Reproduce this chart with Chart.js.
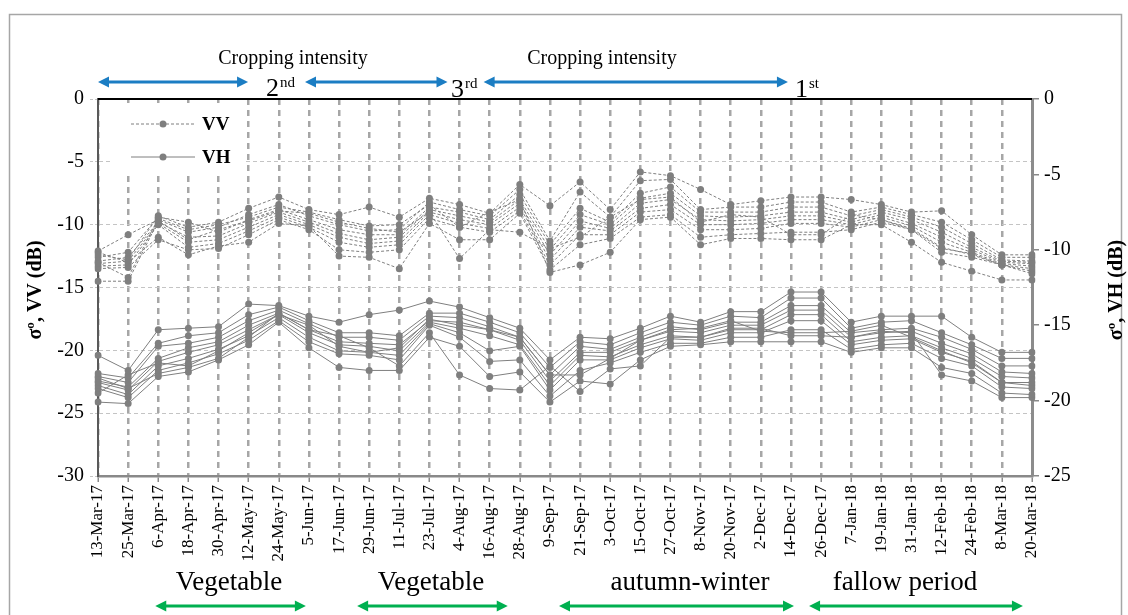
<!DOCTYPE html>
<html>
<head>
<meta charset="utf-8">
<title>Sentinel-1 backscatter VV / VH</title>
<script src="https://cdn.jsdelivr.net/npm/chart.js"></script>
<style>
  html, body { margin: 0; padding: 0; background: #fff; }
  #wrap { width: 1128px; height: 615px; }
</style>
</head>
<body>
<div id="wrap"><canvas id="chart" width="1128" height="615"></canvas></div>
<script>
// acquisition dates (12-day revisit)
const dates = ['13-Mar-17', '25-Mar-17', '6-Apr-17', '18-Apr-17', '30-Apr-17', '12-May-17', '24-May-17',
    '5-Jun-17', '17-Jun-17', '29-Jun-17', '11-Jul-17', '23-Jul-17', '4-Aug-17', '16-Aug-17', '28-Aug-17',
    '9-Sep-17', '21-Sep-17', '3-Oct-17', '15-Oct-17', '27-Oct-17', '8-Nov-17', '20-Nov-17', '2-Dec-17',
    '14-Dec-17', '26-Dec-17', '7-Jan-18', '19-Jan-18', '31-Jan-18', '12-Feb-18', '24-Feb-18', '8-Mar-18', '20-Mar-18'];

// VV backscatter (dB), left axis
const vv1  = [-12.4, -12.8, -9.3, -10.2, -9.8, -8.7, -7.8, -8.8, -9.2, -8.6, -9.4, -7.9, -8.4, -9.1, -6.8, -8.5, -6.6, -8.8, -5.8, -6.1, -7.2, -8.4, -8.1, -7.8, -7.8, -8.0, -8.4, -9.0, -8.9, -10.8, -12.4, -12.4];
const vv2  = [-12.1, -10.8, -9.6, -10.6, -10.2, -9.2, -8.4, -9.3, -10.0, -10.5, -10.4, -8.2, -8.8, -9.3, -7.2, -11.3, -7.4, -9.4, -6.5, -6.4, -8.8, -8.6, -8.6, -8.2, -8.2, -9.0, -8.6, -9.2, -9.8, -11.2, -12.6, -12.6];
const vv3  = [-12.6, -12.2, -9.4, -9.8, -10.6, -9.6, -8.8, -9.6, -10.4, -10.8, -10.8, -8.6, -9.0, -9.6, -7.6, -11.6, -8.7, -9.8, -7.5, -7.0, -9.0, -9.0, -9.0, -8.6, -8.6, -9.3, -8.8, -9.4, -10.2, -11.5, -12.8, -12.9];
const vv4  = [-12.9, -12.6, -9.8, -11.0, -10.9, -9.9, -9.0, -9.8, -10.7, -11.2, -11.0, -8.8, -9.3, -9.8, -8.0, -12.0, -9.2, -10.0, -7.9, -7.5, -9.3, -9.4, -9.3, -9.0, -9.0, -9.6, -9.0, -9.6, -10.6, -11.8, -12.9, -13.0];
const vv5  = [-13.1, -12.9, -9.9, -11.4, -11.2, -10.2, -9.2, -10.0, -11.0, -11.5, -11.3, -9.0, -9.6, -10.0, -8.3, -12.4, -9.7, -10.3, -8.3, -8.0, -9.6, -9.7, -9.6, -9.3, -9.3, -9.8, -9.2, -9.9, -11.0, -12.0, -13.0, -13.1];
const vv6  = [-13.3, -13.2, -10.0, -11.8, -11.5, -10.5, -9.4, -10.2, -11.4, -11.8, -11.6, -9.2, -9.9, -10.3, -8.6, -12.8, -10.2, -10.5, -8.7, -8.4, -10.0, -10.0, -9.9, -9.6, -9.6, -10.0, -9.4, -10.1, -11.4, -12.2, -13.1, -13.3];
const vv7  = [-13.5, -13.4, -11.2, -12.0, -11.9, -10.8, -9.6, -10.4, -12.0, -12.2, -12.0, -9.5, -10.2, -10.6, -8.9, -13.2, -10.8, -10.8, -9.0, -8.8, -10.4, -10.4, -10.3, -9.9, -9.9, -10.2, -9.6, -10.3, -11.8, -12.4, -13.2, -13.5];
const vv8  = [-12.2, -13.0, -11.0, -12.4, -11.7, -11.4, -9.9, -10.1, -12.5, -12.6, -13.5, -9.9, -11.2, -11.2, -9.1, -13.6, -11.6, -11.1, -9.4, -9.2, -11.0, -10.8, -10.7, -10.6, -10.6, -10.4, -9.8, -10.4, -12.2, -12.6, -13.2, -13.9];
const vv9  = [-13.0, -14.2, -9.5, -10.4, -10.0, -9.4, -8.6, -9.0, -9.6, -10.1, -10.0, -8.4, -10.2, -9.0, -8.0, -13.8, -13.2, -12.2, -9.6, -9.4, -11.6, -11.1, -11.1, -11.2, -11.2, -10.0, -10.0, -11.4, -13.0, -13.7, -14.4, -14.4];
const vv10 = [-14.5, -14.5, -9.7, -11.2, -10.4, -9.7, -8.9, -9.1, -9.8, -10.3, -10.6, -9.0, -12.7, -10.4, -10.6, -11.9, -11.0, -9.4, -8.0, -7.8, -9.8, -9.2, -9.4, -10.8, -10.8, -9.2, -9.6, -10.4, -11.9, -12.3, -13.2, -13.7];

// VH backscatter (dB), right axis
const vh1  = [-17.0, -18.0, -15.3, -15.2, -15.1, -13.6, -13.7, -14.4, -14.8, -14.3, -14.0, -13.4, -13.8, -14.5, -15.2, -17.3, -15.8, -15.9, -15.2, -14.4, -14.8, -14.1, -14.1, -12.8, -12.8, -14.8, -14.4, -14.4, -14.4, -15.8, -16.8, -16.8];
const vh2  = [-18.2, -18.5, -16.2, -15.7, -15.5, -14.3, -13.8, -14.7, -15.5, -15.5, -15.7, -14.2, -14.2, -14.8, -15.5, -17.8, -16.1, -16.3, -15.5, -14.8, -15.0, -14.4, -14.5, -13.2, -13.2, -15.2, -14.8, -14.7, -15.5, -16.3, -17.2, -17.2];
const vh3  = [-18.4, -18.8, -16.4, -16.2, -15.8, -14.7, -14.0, -14.9, -15.8, -15.8, -16.0, -14.4, -14.5, -15.1, -15.8, -18.3, -16.4, -16.6, -15.8, -15.1, -15.3, -14.8, -14.8, -13.7, -13.7, -15.5, -15.3, -15.2, -15.8, -16.6, -17.7, -17.7];
const vh4  = [-18.7, -19.1, -17.2, -16.5, -16.1, -15.0, -14.2, -15.3, -16.1, -16.2, -16.3, -14.7, -14.8, -15.3, -16.0, -18.7, -16.8, -16.8, -16.0, -15.4, -15.5, -15.0, -15.0, -14.0, -14.0, -15.8, -15.5, -15.4, -16.2, -16.9, -18.1, -18.2];
const vh5  = [-18.8, -19.3, -17.4, -16.8, -16.3, -15.3, -14.3, -15.5, -16.3, -16.4, -16.7, -14.8, -15.2, -15.7, -16.3, -19.0, -17.0, -17.1, -16.3, -15.7, -15.8, -15.3, -15.3, -14.3, -14.3, -16.1, -15.8, -15.7, -16.5, -17.2, -18.4, -18.5];
const vh6  = [-19.0, -19.6, -17.7, -17.2, -16.6, -15.7, -14.5, -15.8, -16.7, -16.8, -17.0, -14.9, -15.5, -16.7, -16.4, -19.3, -17.3, -17.3, -16.5, -15.9, -16.0, -15.5, -15.5, -14.7, -14.7, -16.3, -16.0, -15.9, -16.8, -17.4, -18.8, -18.8];
const vh7  = [-19.2, -19.8, -18.0, -17.5, -16.9, -16.0, -14.7, -16.1, -16.9, -17.0, -17.3, -15.0, -15.8, -17.4, -17.3, -19.7, -18.0, -17.5, -16.8, -16.2, -16.2, -15.8, -15.8, -15.3, -15.3, -16.6, -16.3, -16.2, -17.2, -17.7, -19.1, -19.2];
const vh8  = [-20.1, -20.2, -18.4, -18.1, -17.3, -16.3, -14.8, -16.5, -17.8, -18.0, -18.0, -15.8, -16.4, -18.4, -18.1, -20.1, -18.7, -18.9, -17.3, -16.4, -16.3, -16.1, -16.1, -16.1, -16.1, -16.8, -16.5, -16.5, -17.8, -18.2, -19.5, -19.6];
const vh9  = [-18.5, -19.2, -18.2, -17.8, -17.2, -15.8, -14.2, -15.3, -15.7, -16.5, -17.7, -15.5, -18.3, -19.2, -19.3, -17.7, -19.4, -17.9, -17.7, -15.8, -15.8, -15.2, -15.2, -15.7, -15.7, -15.8, -15.4, -15.5, -18.3, -18.7, -19.8, -19.8];
const vh10 = [-19.5, -18.3, -17.5, -17.7, -16.7, -15.5, -14.3, -15.0, -16.4, -16.8, -16.5, -14.6, -15.0, -15.3, -15.8, -18.3, -18.3, -17.2, -16.0, -15.3, -15.2, -14.7, -15.4, -15.5, -15.5, -15.4, -15.0, -15.8, -16.7, -17.5, -18.8, -19.0];

const vvSeries = [vv1, vv2, vv3, vv4, vv5, vv6, vv7, vv8, vv9, vv10];
const vhSeries = [vh1, vh2, vh3, vh4, vh5, vh6, vh7, vh8, vh9, vh10];

const leftTicks = { min: -30, max: 0, step: 5 };
const rightTicks = { min: -25, max: 0, step: 5 };

// cropping-intensity arrows (top) and season arrows (bottom), in date-index units
const intensitySpans = [[0, 4.98], [6.87, 11.6], [12.8, 22.9]];
const seasonSpans = [[1.9, 6.9], [8.6, 13.6], [15.3, 23.1], [23.6, 30.7]];
const seasonLabels = ['Vegetable', 'Vegetable', 'autumn-winter', 'fallow period'];

const SERIF = "'Liberation Serif', 'DejaVu Serif', serif";
const GREY = '#7f7f7f';

function makeDataset(values, axis, dashed) {
    return {
        data: values,
        yAxisID: axis,
        borderColor: GREY,
        backgroundColor: GREY,
        borderWidth: 1,
        borderDash: dashed ? [3, 2] : [],
        pointRadius: 3.5,
        pointHoverRadius: 3.5,
        pointBorderWidth: 0,
        pointBackgroundColor: GREY,
        tension: 0,
        fill: false
    };
}

function drawArrow(ctx, x1, x2, y, color) {
    const head = 11;
    ctx.strokeStyle = color;
    ctx.fillStyle = color;
    ctx.lineWidth = 3;
    ctx.beginPath();
    ctx.moveTo(x1 + head - 2, y);
    ctx.lineTo(x2 - head + 2, y);
    ctx.stroke();
    ctx.beginPath();
    ctx.moveTo(x1, y);
    ctx.lineTo(x1 + head, y - 5.5);
    ctx.lineTo(x1 + head, y + 5.5);
    ctx.closePath();
    ctx.fill();
    ctx.beginPath();
    ctx.moveTo(x2, y);
    ctx.lineTo(x2 - head, y - 5.5);
    ctx.lineTo(x2 - head, y + 5.5);
    ctx.closePath();
    ctx.fill();
}

function drawOrdinal(ctx, x, y, num, suffix) {
    ctx.textAlign = 'left';
    ctx.textBaseline = 'alphabetic';
    ctx.font = '26px ' + SERIF;
    ctx.fillText(num, x, y);
    const w = ctx.measureText(num).width;
    ctx.font = '15px ' + SERIF;
    ctx.fillText(suffix, x + w + 1, y - 9);
}

function drawRotated(ctx, text, x, y) {
    ctx.save();
    ctx.translate(x, y);
    ctx.rotate(-Math.PI / 2);
    ctx.textAlign = 'center';
    ctx.textBaseline = 'middle';
    ctx.font = 'bold 20px ' + SERIF;
    ctx.fillText(text, 0, 0);
    ctx.restore();
}

const decorations = {
    id: 'decorations',
    afterDraw(chart) {
        const ctx = chart.ctx;
        const area = chart.chartArea;
        const xs = chart.scales.x;
        ctx.save();

        // outer frame
        ctx.strokeStyle = '#a6a6a6';
        ctx.lineWidth = 1.5;
        ctx.strokeRect(9.5, 14.5, 1112, 620);

        // top edge of plot area
        ctx.strokeStyle = '#000';
        ctx.lineWidth = 2;
        ctx.beginPath();
        ctx.moveTo(area.left, area.top);
        ctx.lineTo(area.right, area.top);
        ctx.stroke();

        // legend box
        ctx.fillStyle = '#fff';
        ctx.fillRect(112, 103, 134, 70);
        [['VV', true, 124], ['VH', false, 157]].forEach(([label, dashed, y]) => {
            ctx.strokeStyle = GREY;
            ctx.lineWidth = 1;
            ctx.setLineDash(dashed ? [3, 2] : []);
            ctx.beginPath();
            ctx.moveTo(131, y);
            ctx.lineTo(195, y);
            ctx.stroke();
            ctx.setLineDash([]);
            ctx.fillStyle = GREY;
            ctx.beginPath();
            ctx.arc(163, y, 3.5, 0, Math.PI * 2);
            ctx.fill();
            ctx.fillStyle = '#000';
            ctx.font = 'bold 19px ' + SERIF;
            ctx.textAlign = 'left';
            ctx.textBaseline = 'middle';
            ctx.fillText(label, 202, y + 1);
        });

        // cropping intensity annotations
        ctx.fillStyle = '#000';
        ctx.font = '20px ' + SERIF;
        ctx.textAlign = 'center';
        ctx.textBaseline = 'alphabetic';
        ctx.fillText('Cropping intensity', 293, 64);
        ctx.fillText('Cropping intensity', 602, 64);
        intensitySpans.forEach(([a, b]) => {
            drawArrow(ctx, xs.getPixelForValue(a), xs.getPixelForValue(b), 82, '#1b7dc3');
        });
        ctx.fillStyle = '#000';
        drawOrdinal(ctx, 266, 96, '2', 'nd');
        drawOrdinal(ctx, 451, 97, '3', 'rd');
        drawOrdinal(ctx, 795, 97, '1', 'st');

        // season annotations
        seasonSpans.forEach(([a, b]) => {
            drawArrow(ctx, xs.getPixelForValue(a), xs.getPixelForValue(b), 606, '#00b050');
        });
        ctx.fillStyle = '#000';
        ctx.font = '27px ' + SERIF;
        ctx.textAlign = 'center';
        ctx.textBaseline = 'alphabetic';
        const labelX = [229, 431, 690, 905];
        seasonLabels.forEach((t, i) => ctx.fillText(t, labelX[i], 590));

        // axis titles
        ctx.fillStyle = '#000';
        drawRotated(ctx, 'σº, VV (dB)', 36, 290);
        drawRotated(ctx, 'σº, VH (dB)', 1117, 290);

        ctx.restore();
    }
};

const datasets = [];
vvSeries.forEach(s => datasets.push(makeDataset(s, 'y', true)));
vhSeries.forEach(s => datasets.push(makeDataset(s, 'y1', false)));

new Chart(document.getElementById('chart'), {
    type: 'line',
    data: { labels: dates, datasets: datasets },
    options: {
        responsive: false,
        animation: false,
        events: [],
        layout: { padding: { top: 99, left: 0, right: 0, bottom: 0 } },
        plugins: {
            legend: { display: false },
            tooltip: { enabled: false }
        },
        scales: {
            x: {
                offset: false,
                afterFit: s => { s.height = 139; },
                grid: {
                    color: '#a6a6a6',
                    lineWidth: 2.5,
                    tickLength: 6,
                    tickColor: '#898989',
                    tickWidth: 1.5,
                    tickBorderDash: []
                },
                border: { display: true, color: '#898989', width: 2.5, dash: [6, 5] },
                ticks: {
                    autoSkip: false,
                    minRotation: 90,
                    maxRotation: 90,
                    padding: 3,
                    color: '#000',
                    font: { family: SERIF, size: 17 }
                }
            },
            y: {
                position: 'left',
                min: leftTicks.min,
                max: leftTicks.max,
                afterFit: s => { s.width = 98; },
                grid: {
                    color: '#c4c4c4',
                    lineWidth: 1,
                    tickLength: 8,
                    tickColor: '#c4c4c4',
                    tickBorderDash: [3, 2]
                },
                border: { display: true, color: '#595959', width: 2, dash: [4, 3] },
                ticks: {
                    stepSize: leftTicks.step,
                    padding: 6,
                    color: '#000',
                    font: { family: SERIF, size: 20 }
                }
            },
            y1: {
                position: 'right',
                min: rightTicks.min,
                max: rightTicks.max,
                afterFit: s => { s.width = 96; },
                grid: {
                    drawOnChartArea: false,
                    tickLength: 7,
                    tickColor: '#898989',
                    lineWidth: 1.5
                },
                border: { display: true, color: '#8c8c8c', width: 3 },
                ticks: {
                    stepSize: rightTicks.step,
                    padding: 5,
                    color: '#000',
                    font: { family: SERIF, size: 20 }
                }
            }
        }
    },
    plugins: [decorations]
});
</script>
</body>
</html>
